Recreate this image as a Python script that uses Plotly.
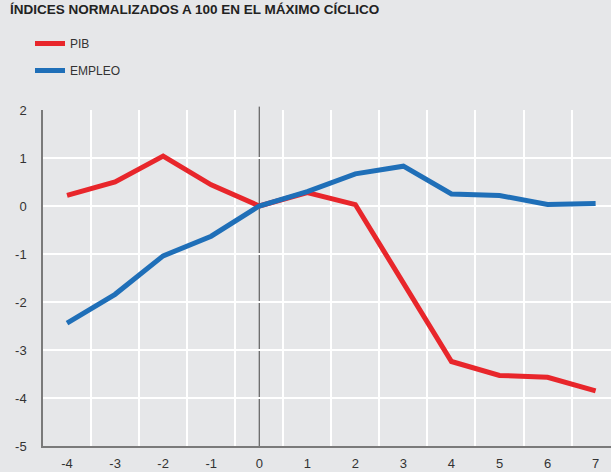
import plotly.graph_objects as go

periods = [-4, -3, -2, -1, 0, 1, 2, 3, 4, 5, 6, 7]
pib = [0.22, 0.50, 1.04, 0.44, 0.0, 0.28, 0.03, -1.62, -3.24, -3.53, -3.57, -3.85]
empleo = [-2.44, -1.84, -1.04, -0.63, 0.0, 0.30, 0.67, 0.83, 0.25, 0.22, 0.03, 0.05]
y_ticks = [2, 1, 0, -1, -2, -3, -4, -5]
title_text = "ÍNDICES NORMALIZADOS A 100 EN EL MÁXIMO CÍCLICO"

BG = "#e6e7e9"
RED = "#e8262b"
BLUE = "#1f6fb8"
TXT = "#333333"
FONT = "Liberation Sans"

fig = go.Figure()
fig.add_trace(go.Scatter(x=periods, y=pib, mode="lines", name="PIB",
                         line=dict(color=RED, width=5), legendgroup="a"))
fig.add_trace(go.Scatter(x=periods, y=empleo, mode="lines", name="EMPLEO",
                         line=dict(color=BLUE, width=5), legendgroup="b"))

H = 472
top, bottom = 110, 446
ph = bottom - top
pw = 611 - 43

def py(p):
    return 1 + (top - p) / ph

def px(p):
    return (p - 43) / pw

fig.update_layout(
    width=611, height=H,
    margin=dict(l=43, r=0, t=top, b=H - bottom, pad=0, autoexpand=False),
    paper_bgcolor=BG, plot_bgcolor=BG,
    font=dict(family=FONT, size=13, color=TXT),
    showlegend=True,
    legend=dict(x=px(30), xanchor="left", y=py(29), yanchor="top",
                bgcolor="rgba(0,0,0,0)", font=dict(size=12, color=TXT),
                tracegroupgap=8, traceorder="grouped", itemwidth=30),
    xaxis=dict(range=[-4.5, 7.32], tickmode="array", tickvals=periods,
               ticktext=[str(p) for p in periods], automargin=False,
               showgrid=False, zeroline=False,
               showline=True, linecolor="#7a7a7a", linewidth=1.5,
               ticks="outside", ticklen=5, tickcolor="rgba(0,0,0,0)",
               tickfont=dict(size=13, color=TXT),
               minor=dict(tick0=-4.5, dtick=1, showgrid=True, gridcolor="#ffffff",
                          gridwidth=1.5, ticks="")),
    yaxis=dict(range=[-5, 2], tickmode="array", tickvals=y_ticks,
               ticktext=[str(v) for v in y_ticks], automargin=False,
               showgrid=True, gridcolor="#ffffff", gridwidth=1.5, zeroline=False,
               showline=True, linecolor="#7a7a7a", linewidth=1.5,
               ticks="outside", ticklen=12, tickcolor="rgba(0,0,0,0)",
               tickfont=dict(size=13, color=TXT)),
    shapes=[
        dict(type="line", xref="x", yref="y", x0=-4, x1=7.32, y0=0, y1=0,
             line=dict(color="#555555", width=1.2), layer="below"),
        dict(type="line", xref="x", yref="paper", x0=0, x1=0, y0=0, y1=1.01,
             line=dict(color="#444444", width=1), layer="below"),
    ],
    annotations=[
        dict(text="<b>" + title_text + "</b>", xref="paper", yref="paper",
             x=px(8), xanchor="left", y=py(10), yanchor="middle",
             showarrow=False, font=dict(size=13.5, color="#222222")),
    ],
)

fig.write_html("out.html", config={"displayModeBar": False},
               post_script="document.body.style.margin='0';document.body.style.padding='0';")
